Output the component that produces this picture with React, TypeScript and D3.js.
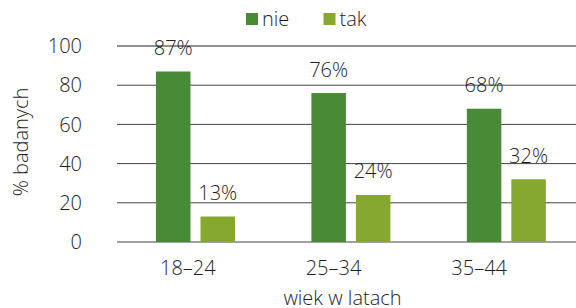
import React from "react";
import * as d3 from "d3";

const categories = ["18–24", "25–34", "35–44"];
const seriesNames = ["nie", "tak"];
const nieValues = [87, 76, 68];
const takValues = [13, 24, 32];
const yTicks = [0, 20, 40, 60, 80, 100];
const colors = ["#488a36", "#86a730"];

const W = 576;
const H = 308;
const FONT = "'Open Sans', sans-serif";
const FS = 20;
const TXT = "#1e1e1e";

export default function App() {
  const y = d3.scaleLinear().domain([0, 100]).range([242, 46]);
  const x0 = d3.scaleBand().domain(categories).range([117.75, 584]).paddingInner(0).paddingOuter(0);
  const x1 = d3.scaleBand().domain(seriesNames).range([38.25, 38.25 + 79]).paddingInner(0.225);
  const xl = d3.scaleBand().domain(categories).range([115, 552]);
  const series = [nieValues, takValues];

  return (
    <svg width={W} height={H} style={{ position: "absolute", left: 0, top: 0, fontFamily: FONT }}>
      {yTicks.map((t) => (
        <g key={t}>
          <line x1={117} x2={584} y1={y(t)} y2={y(t)} stroke={t === 100 ? "#6b6b6b" : "#444"} strokeWidth={t === 100 ? 1.3 : 1} />
          <text x={82} y={y(t)} dy="0.36em" textAnchor="end" fontSize={FS} fontWeight={300} fill={TXT}>
            {t}
          </text>
        </g>
      ))}
      {categories.map((c, i) => (
        <g key={c} transform={`translate(${x0(c)},0)`}>
          {seriesNames.map((s, j) => {
            const v = series[j][i];
            const bx = x1(s)!;
            const bw = x1.bandwidth();
            return (
              <g key={s}>
                <rect x={bx} y={y(v)} width={bw} height={y(0) - y(v)} fill={colors[j]} />
                <text x={bx + bw / 2} y={y(v) - 16.5} textAnchor="middle" fontSize={FS} fontWeight={300} fill={TXT}>
                  {v}%
                </text>
              </g>
            );
          })}
        </g>
      ))}
      {categories.map((c) => (
        <text key={c} x={xl(c)! + xl.bandwidth() / 2} y={275} textAnchor="middle" fontSize={FS} fontWeight={300} fill={TXT}>
          {c}
        </text>
      ))}
      <text x={342.5} y={305} textAnchor="middle" fontSize={FS} fontWeight={300} fill={TXT}>
        wiek w latach
      </text>
      <text transform={`translate(28,142) rotate(-90)`} textAnchor="middle" fontSize={FS} fontWeight={300} fill={TXT}>
        % badanych
      </text>
      {seriesNames.map((s, j) => {
        const lx = [246, 323.5][j];
        return (
          <g key={s}>
            <rect x={lx} y={13} width={12} height={12} fill={colors[j]} />
            <text x={lx + 16} y={26} fontSize={FS} fontWeight={300} fill={TXT}>
              {s}
            </text>
          </g>
        );
      })}
    </svg>
  );
}
